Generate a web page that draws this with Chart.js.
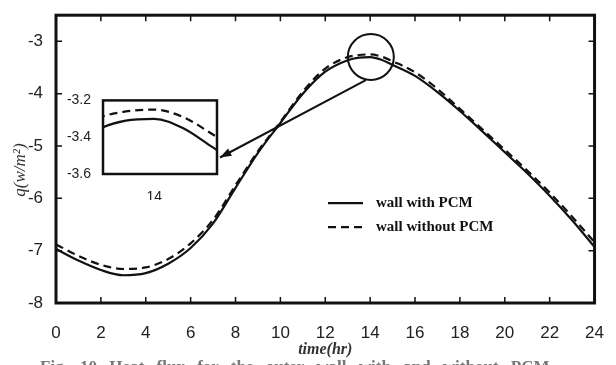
<!DOCTYPE html>
<html>
<head>
<meta charset="utf-8">
<script src="https://cdn.jsdelivr.net/npm/chart.js@4/dist/chart.umd.min.js"></script>
<style>
body{margin:0;width:616px;height:365px;overflow:hidden;background:#fff;position:relative}
#main{position:absolute;left:0;top:0}
#zoom{position:absolute}
#cap{position:absolute;left:40px;top:357px;font:bold 17px "Liberation Serif",serif;color:#777;white-space:nowrap;word-spacing:8px}
</style>
</head>
<body>
<canvas id="main" width="616" height="365"></canvas>
<canvas id="zoom"></canvas>
<div id="cap">Fig. 10 Heat flux for the outer wall with and without PCM</div>
<script>
// hourly heat flux, extra half-hour samples around the peak
const hours      = [0, 1, 2, 3, 4, 5, 6, 7, 8, 9, 10, 11, 12, 13, 13.5, 14, 14.5, 15, 16, 17, 18, 19, 20, 21, 22, 23, 24];
const withPCM    = [-6.97, -7.19, -7.37, -7.47, -7.43, -7.25, -6.95, -6.48, -5.80, -5.13, -4.56, -4.00, -3.58, -3.36, -3.31, -3.30, -3.35, -3.45, -3.66, -3.97, -4.33, -4.72, -5.12, -5.52, -5.95, -6.42, -6.93];
const withoutPCM = [-6.88, -7.10, -7.27, -7.35, -7.32, -7.16, -6.86, -6.41, -5.75, -5.10, -4.54, -3.96, -3.52, -3.30, -3.26, -3.25, -3.29, -3.38, -3.59, -3.91, -4.29, -4.68, -5.07, -5.47, -5.89, -6.35, -6.84];
const seriesNames = ['wall with PCM', 'wall without PCM'];
const xTicks = [0, 2, 4, 6, 8, 10, 12, 14, 16, 18, 20, 22, 24];
const yTicks = [-8, -7, -6, -5, -4, -3];
const zoomTicksX = [14];
const zoomTicksY = [-3.6, -3.4, -3.2];

// magnified window and where its box sits on the page
const zoomX = [13.1, 15.1];
const zoomY = [-3.6, -3.2];
const zoomBox = {left: 103, top: 99, right: 217, bottom: 174};

const INK = '#111';
const pts = vals => hours.map((h, i) => ({x: h, y: vals[i]}));

function makeSets(width) {
  return [
    {label: seriesNames[0], data: pts(withPCM), borderColor: INK, borderWidth: width,
     pointRadius: 0, cubicInterpolationMode: 'monotone'},
    {label: seriesNames[1], data: pts(withoutPCM), borderColor: INK, borderWidth: width,
     borderDash: [8, 5], pointRadius: 0, cubicInterpolationMode: 'monotone'}
  ];
}

const frameAndNotes = {
  id: 'frameAndNotes',
  afterDraw(chart) {
    const {ctx, chartArea: a, scales: {x, y}} = chart;
    ctx.save();
    ctx.strokeStyle = INK;
    ctx.fillStyle = INK;

    // box + inward ticks on all four sides
    ctx.lineWidth = 3;
    ctx.strokeRect(a.left, a.top, a.right - a.left, a.bottom - a.top);
    ctx.lineWidth = 1.5;
    ctx.beginPath();
    xTicks.forEach(v => {
      const px = x.getPixelForValue(v);
      ctx.moveTo(px, a.bottom); ctx.lineTo(px, a.bottom - 6);
      ctx.moveTo(px, a.top); ctx.lineTo(px, a.top + 6);
    });
    yTicks.forEach(v => {
      const py = y.getPixelForValue(v);
      ctx.moveTo(a.left, py); ctx.lineTo(a.left + 6, py);
      ctx.moveTo(a.right, py); ctx.lineTo(a.right - 6, py);
    });
    ctx.stroke();

    // circle round the peak and arrow to the magnified box
    const cx = x.getPixelForValue(14.03), cy = y.getPixelForValue(-3.3);
    ctx.lineWidth = 2;
    ctx.beginPath();
    ctx.arc(cx, cy, 23, 0, Math.PI * 2);
    ctx.stroke();
    const sx = cx - 5, sy = cy + 23;
    const tx = zoomBox.right + 3, ty = (zoomBox.top + zoomBox.bottom) / 2 + 21;
    const ang = Math.atan2(ty - sy, tx - sx);
    ctx.beginPath();
    ctx.moveTo(sx, sy); ctx.lineTo(tx, ty);
    ctx.stroke();
    ctx.beginPath();
    ctx.moveTo(tx, ty);
    ctx.lineTo(tx - 12 * Math.cos(ang - 0.35), ty - 12 * Math.sin(ang - 0.35));
    ctx.lineTo(tx - 12 * Math.cos(ang + 0.35), ty - 12 * Math.sin(ang + 0.35));
    ctx.closePath();
    ctx.fill();

    // legend
    const lx = a.left + 272, ly = a.top + 188;
    chart.data.datasets.forEach((ds, i) => {
      const yy = ly + i * 24;
      ctx.lineWidth = ds.borderWidth;
      ctx.setLineDash(ds.borderDash || []);
      ctx.beginPath();
      ctx.moveTo(lx, yy); ctx.lineTo(lx + 35, yy);
      ctx.stroke();
      ctx.setLineDash([]);
      ctx.font = 'bold 15px "Liberation Serif"';
      ctx.textBaseline = 'middle';
      ctx.fillText(ds.label, lx + 48, yy);
    });

    // axis titles
    ctx.fillStyle = '#333';
    ctx.textAlign = 'center';
    ctx.textBaseline = 'middle';
    ctx.font = 'italic bold 16px "Liberation Serif"';
    ctx.fillText('time(hr)', (a.left + a.right) / 2, 350);
    ctx.translate(21, 170);
    ctx.rotate(-Math.PI / 2);
    ctx.font = 'italic 17px "Liberation Serif"';
    ctx.fillText('q(w/m²)', 0, 0);
    ctx.restore();
  }
};

new Chart(document.getElementById('main'), {
  type: 'line',
  data: {datasets: makeSets(2.2)},
  options: {
    responsive: false,
    animation: false,
    layout: {padding: {left: 10, right: 20, top: 15, bottom: 12}},
    plugins: {legend: {display: false}, tooltip: {enabled: false}},
    scales: {
      x: {
        type: 'linear', min: 0, max: 24,
        afterFit: s => { s.height = 50; },
        afterBuildTicks: s => { s.ticks = xTicks.map(v => ({value: v})); },
        grid: {display: false}, border: {display: false},
        ticks: {font: {family: 'Liberation Sans', size: 17}, color: '#222', padding: 12, maxRotation: 0}
      },
      y: {
        type: 'linear', min: -8, max: -2.5,
        afterFit: s => { s.width = 46; },
        afterBuildTicks: s => { s.ticks = yTicks.map(v => ({value: v})); },
        grid: {display: false}, border: {display: false},
        ticks: {font: {family: 'Liberation Sans', size: 17}, color: '#222', padding: 5}
      }
    }
  },
  plugins: [frameAndNotes]
});

// magnified view of the peak
const zc = document.getElementById('zoom');
const zPad = {left: 43, top: 11, right: 13, bottom: 26};
zc.width = zoomBox.right - zoomBox.left + zPad.left + zPad.right;
zc.height = zoomBox.bottom - zoomBox.top + zPad.top + zPad.bottom;
zc.style.left = (zoomBox.left - zPad.left) + 'px';
zc.style.top = (zoomBox.top - zPad.top) + 'px';

const zoomFrame = {
  id: 'zoomFrame',
  afterDraw(chart) {
    const {ctx, chartArea: a} = chart;
    ctx.save();
    ctx.strokeStyle = INK;
    ctx.lineWidth = 2.5;
    ctx.strokeRect(a.left, a.top, a.right - a.left, a.bottom - a.top);
    ctx.restore();
  }
};

new Chart(zc, {
  type: 'line',
  data: {datasets: makeSets(2.2)},
  options: {
    responsive: false,
    animation: false,
    layout: {padding: {left: 0, right: zPad.right, top: zPad.top, bottom: 0}},
    plugins: {legend: {display: false}, tooltip: {enabled: false}},
    scales: {
      x: {
        type: 'linear', min: zoomX[0], max: zoomX[1],
        afterFit: s => { s.height = zPad.bottom; },
        afterBuildTicks: s => { s.ticks = zoomTicksX.map(v => ({value: v})); },
        grid: {display: false}, border: {display: false},
        ticks: {font: {family: 'Liberation Sans', size: 14}, color: '#222', padding: 7}
      },
      y: {
        type: 'linear', min: zoomY[0], max: zoomY[1],
        afterFit: s => { s.width = zPad.left; },
        afterBuildTicks: s => { s.ticks = zoomTicksY.map(v => ({value: v})); },
        grid: {display: false}, border: {display: false},
        ticks: {font: {family: 'Liberation Sans', size: 14}, color: '#222', padding: 4,
                callback: v => v.toFixed(1)}
      }
    }
  },
  plugins: [zoomFrame]
});
</script>
</body>
</html>
